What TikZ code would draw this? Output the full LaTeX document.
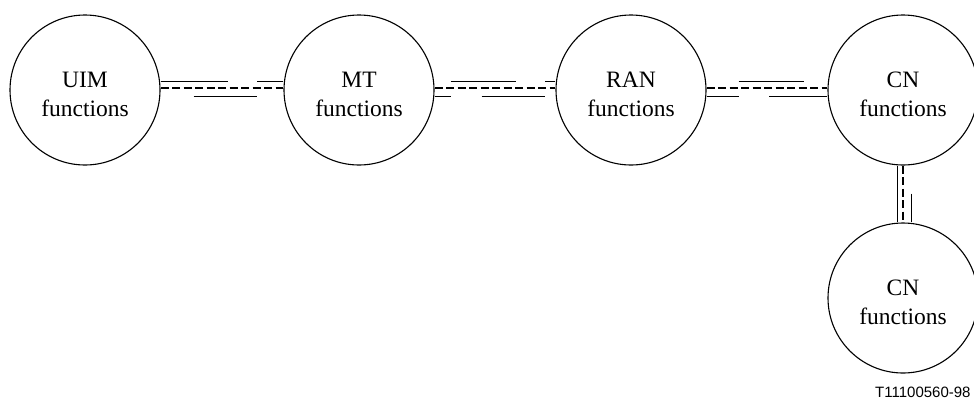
\documentclass[tikz,border=0pt]{standalone}
\usepackage{fontspec}
\setmainfont{Liberation Serif}
\newfontfamily\labelsans{Liberation Sans}
\usetikzlibrary{calc}
\begin{document}
\begin{tikzpicture}[x=1pt,y=-1pt,
  func/.style={circle,draw,line width=1.1pt,minimum size=150pt,inner sep=0pt},
  ftext/.style={align=center,inner sep=0pt,yshift=-4pt,
    font=\fontsize{23.5}{29}\selectfont},
  thin/.style={line width=0.9pt},
  iface/.style={line width=2.8pt,dash pattern=on 8pt off 3.5pt}]
\useasboundingbox (0,0) rectangle (974,400);
\node[func,label={[ftext]center:UIM\\functions}] (uim) at (85,90) {};
\node[func,label={[ftext]center:MT\\functions}] (mt) at (359,90) {};
\node[func,label={[ftext]center:RAN\\functions}] (ran) at (631,90) {};
\node[func,label={[ftext]center:CN\\functions}] (cn) at (903,90) {};
\node[func,label={[ftext]center:CN\\functions}] (cn2) at (903,298) {};
% UIM -- MT
\draw[iface] ($(uim.east)+(0,-2)$) -- ($(mt.west)+(0,-2)$);
\draw[thin] ($(uim.east)+(0,-9)$) -- ($(uim.east)+(67,-9)$);
\draw[thin] ($(mt.west)+(-26,-9)$) -- ($(mt.west)+(0,-9)$);
\draw[thin] ($(uim.east)+(33,6)$) -- ($(mt.west)+(-26,6)$);
% MT -- RAN
\draw[iface] ($(mt.east)+(0,-2)$) -- ($(ran.west)+(0,-2)$);
\draw[thin] ($(mt.east)+(16,-9)$) -- ($(mt.east)+(81,-9)$);
\draw[thin] ($(ran.west)+(-10,-9)$) -- ($(ran.west)+(0,-9)$);
\draw[thin] ($(mt.east)+(0,6)$) -- ($(mt.east)+(16,6)$);
\draw[thin] ($(mt.east)+(47,6)$) -- ($(ran.west)+(-10,6)$);
% RAN -- CN
\draw[iface] ($(ran.east)+(0,-2)$) -- ($(cn.west)+(0,-2)$);
\draw[thin] ($(ran.east)+(32,-9)$) -- ($(ran.east)+(97,-9)$);
\draw[thin] ($(ran.east)+(0,6)$) -- ($(ran.east)+(32,6)$);
\draw[thin] ($(cn.west)+(-58,6)$) -- ($(cn.west)+(0,6)$);
% CN -- CN
\draw[iface] (cn.south) -- (cn2.north);
\draw[thin] ($(cn.south)+(-6,0)$) -- ($(cn2.north)+(-6,0)$);
\draw[thin] ($(cn.south)+(8,28)$) -- ($(cn2.north)+(8,0)$);
\node[font=\labelsans\fontsize{15}{15}\selectfont,anchor=base west,inner sep=0pt] (ref) at (875,397) {T11100560-98};
\end{tikzpicture}
\end{document}
